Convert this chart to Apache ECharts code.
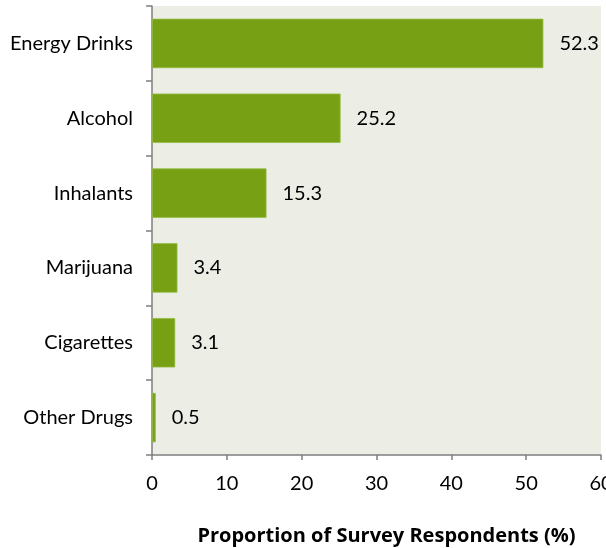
<!DOCTYPE html>
<html>
<head>
<meta charset="utf-8">
<script src="https://cdn.jsdelivr.net/npm/echarts@6/dist/echarts.min.js"></script>
<style>
  html, body { margin: 0; padding: 0; background: #ffffff; }
  #chart { width: 606px; height: 548px; }
</style>
</head>
<body>
<div id="chart"></div>
<script>
// Substances reported by survey respondents
const categories = ['Energy Drinks', 'Alcohol', 'Inhalants', 'Marijuana', 'Cigarettes', 'Other Drugs'];
const proportions = [52.3, 25.2, 15.3, 3.4, 3.1, 0.5];
const axisTitle = 'Proportion of Survey Respondents (%)';

const FONT = 'Lato, "Open Sans", sans-serif';
const TITLE_FONT = '"Open Sans", Lato, sans-serif';
const AXIS_GRAY = '#7f7f7f';

const chart = echarts.init(document.getElementById('chart'), null, { renderer: 'canvas' });

chart.setOption({
  animation: false,
  grid: {
    left: 152, top: 6, width: 449, height: 449,
    outerBoundsMode: 'none',
    containLabel: false,
    show: true, backgroundColor: '#eceee6', borderWidth: 0
  },
  xAxis: {
    type: 'value',
    min: 0, max: 60, interval: 10,
    axisLine: { show: true, lineStyle: { color: AXIS_GRAY, width: 1.5 } },
    axisTick: { show: true, length: 5, lineStyle: { color: AXIS_GRAY, width: 1.5 } },
    splitLine: { show: false },
    axisLabel: { color: '#000', fontFamily: FONT, fontSize: 20, margin: 19 },
    name: axisTitle,
    nameLocation: 'middle',
    nameGap: 71,
    nameTextStyle: {
      color: '#000', fontFamily: TITLE_FONT, fontSize: 20, fontWeight: 'bold',
      padding: [0, 0, 0, 20]
    }
  },
  yAxis: {
    type: 'category',
    data: categories,
    inverse: true,
    axisLine: { show: true, lineStyle: { color: AXIS_GRAY, width: 1.5 } },
    axisTick: { show: true, length: 6, alignWithLabel: false, lineStyle: { color: AXIS_GRAY, width: 1.5 } },
    axisLabel: { color: '#000', fontFamily: FONT, fontSize: 20, margin: 19 }
  },
  series: [{
    type: 'bar',
    data: proportions,
    barCategoryGap: '34%',
    itemStyle: { color: '#77a015', borderColor: '#93bb42', borderWidth: 0.8 },
    label: {
      show: true,
      position: 'right',
      distance: 16,
      color: '#000',
      fontFamily: FONT,
      fontSize: 20,
      formatter: p => p.value.toFixed(1)
    }
  }]
});
</script>
</body>
</html>
